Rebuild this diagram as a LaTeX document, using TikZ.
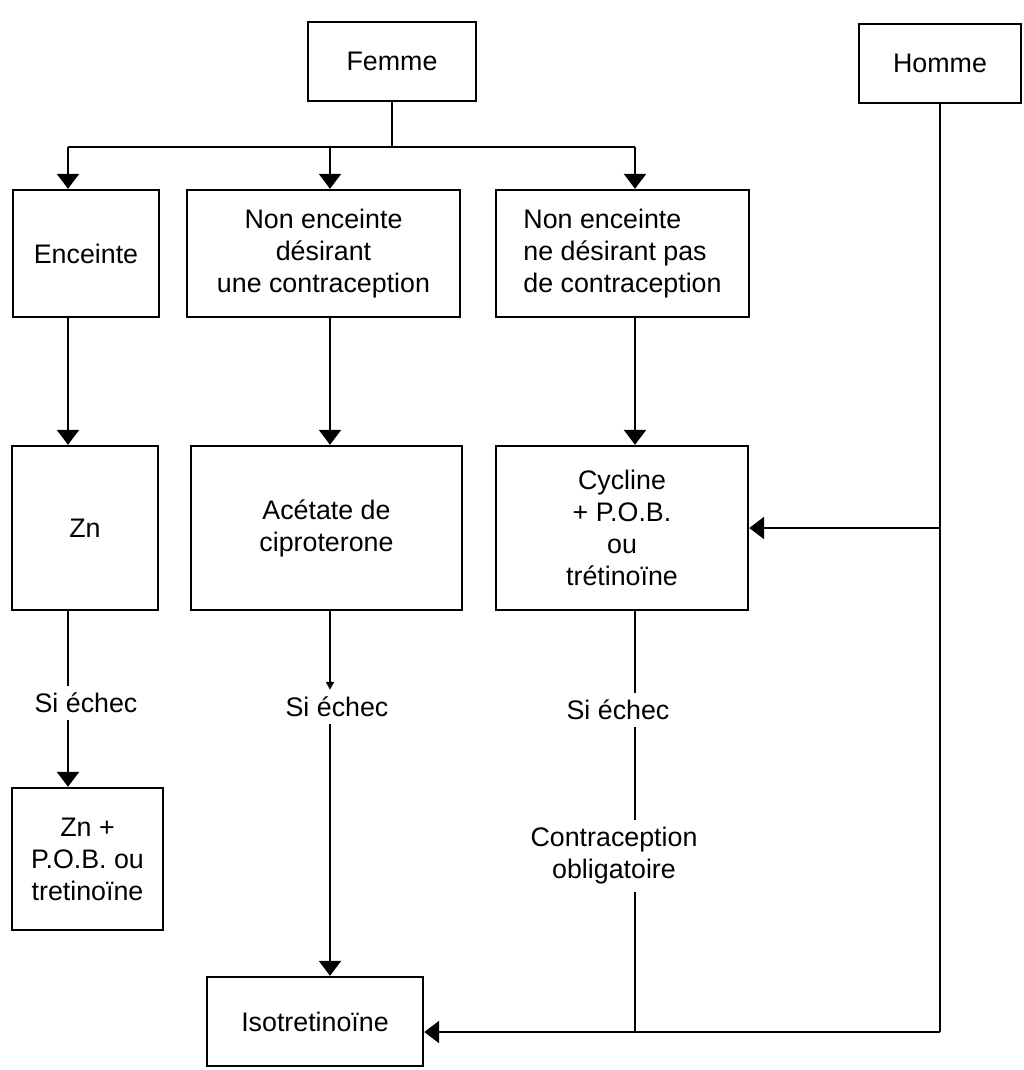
\documentclass[tikz,border=0pt]{standalone}
\usepackage{fontspec}
\setmainfont{Liberation Sans}
\usetikzlibrary{arrows.meta}

\begin{document}
\begin{tikzpicture}[x=0.5pt,y=-0.5pt,font=\fontsize{13.4}{16}\selectfont,line width=1.2pt,
  box/.style={draw,line width=1.2pt,align=center,inner sep=0pt},
  lbl/.style={align=center,inner sep=3pt},
  flow/.style={-{Triangle[width=11pt,length=7.5pt]}},
  tick/.style={-{Triangle[width=4pt,length=4pt]}}]
\useasboundingbox (0,0) rectangle (1023,1070);
% top row
\node[box,minimum width=84pt,minimum height=39.5pt] (femme) at (392,61.5) {Femme};
\node[box,minimum width=81pt,minimum height=39.5pt] (homme) at (940,63.5) {Homme};
% columns
\coordinate (split) at (392,147);
\coordinate (c1) at (68,147);
\coordinate (c2) at (330,147);
\coordinate (c3) at (635,147);
\node[box,minimum width=73pt,minimum height=63.5pt] (enceinte) at (86,253.5) {Enceinte};
\node[box,minimum width=136.5pt,minimum height=63.5pt] (desir) at (323.5,253.5) {Non enceinte\\désirant\\une contraception};
\node[box,minimum width=126.5pt,minimum height=63.5pt,align=left] (nodesir) at (622.5,253.5) {Non enceinte\\ne désirant pas\\de contraception};
\node[box,minimum width=73pt,minimum height=82pt] (zn) at (85,528) {Zn};
\node[box,minimum width=135.5pt,minimum height=82pt] (acetate) at (326.5,528) {Acétate de\\ciproterone};
\node[box,minimum width=126pt,minimum height=82pt] (cycline) at (622,528) {Cycline\\+ P.O.B.\\ou\\trétinoïne};
\node[lbl] (si1) at (86,703) {Si échec};
\node[lbl] (si2) at (337,707) {Si échec};
\node[lbl] (si3) at (618,710) {Si échec};
\node[lbl] (oblig) at (614,856) {Contraception\\obligatoire};
\node[box,minimum width=75.5pt,minimum height=71pt] (znpob) at (87.5,859) {Zn +\\P.O.B. ou\\tretinoïne};
\node[box,minimum width=108pt,minimum height=44.5pt] (iso) at (315,1021.5) {Isotretinoïne};
% Homme branch
\coordinate (hm) at (940,528);
\coordinate (hb) at (940,1032);
\coordinate (jn) at (635,1032);
% connectors
\draw (femme.south) -- (split);
\draw (c1) -- (c3);
\draw[flow] (c1) -- (c1 |- enceinte.north);
\draw[flow] (c2) -- (c2 |- desir.north);
\draw[flow] (c3) -- (c3 |- nodesir.north);
\draw[flow] (c1 |- enceinte.south) -- (c1 |- zn.north);
\draw[flow] (c2 |- desir.south) -- (c2 |- acetate.north);
\draw[flow] (c3 |- nodesir.south) -- (c3 |- cycline.north);
\draw (c1 |- zn.south) -- (c1 |- si1.north);
\draw[flow] (c1 |- si1.south) -- (c1 |- znpob.north);
\draw[tick] (c2 |- acetate.south) -- (c2 |- si2.north);
\draw[flow] (c2 |- si2.south) -- (c2 |- iso.north);
\draw (c3 |- cycline.south) -- (c3 |- si3.north);
\draw (c3 |- si3.south) -- (c3 |- oblig.north);
\draw (c3 |- oblig.south) -- (jn);
\draw (homme.south) -- (hb);
\draw[flow] (hm) -- (hm -| cycline.east);
\draw[flow] (hb) -- (hb -| iso.east);
\end{tikzpicture}
\end{document}
